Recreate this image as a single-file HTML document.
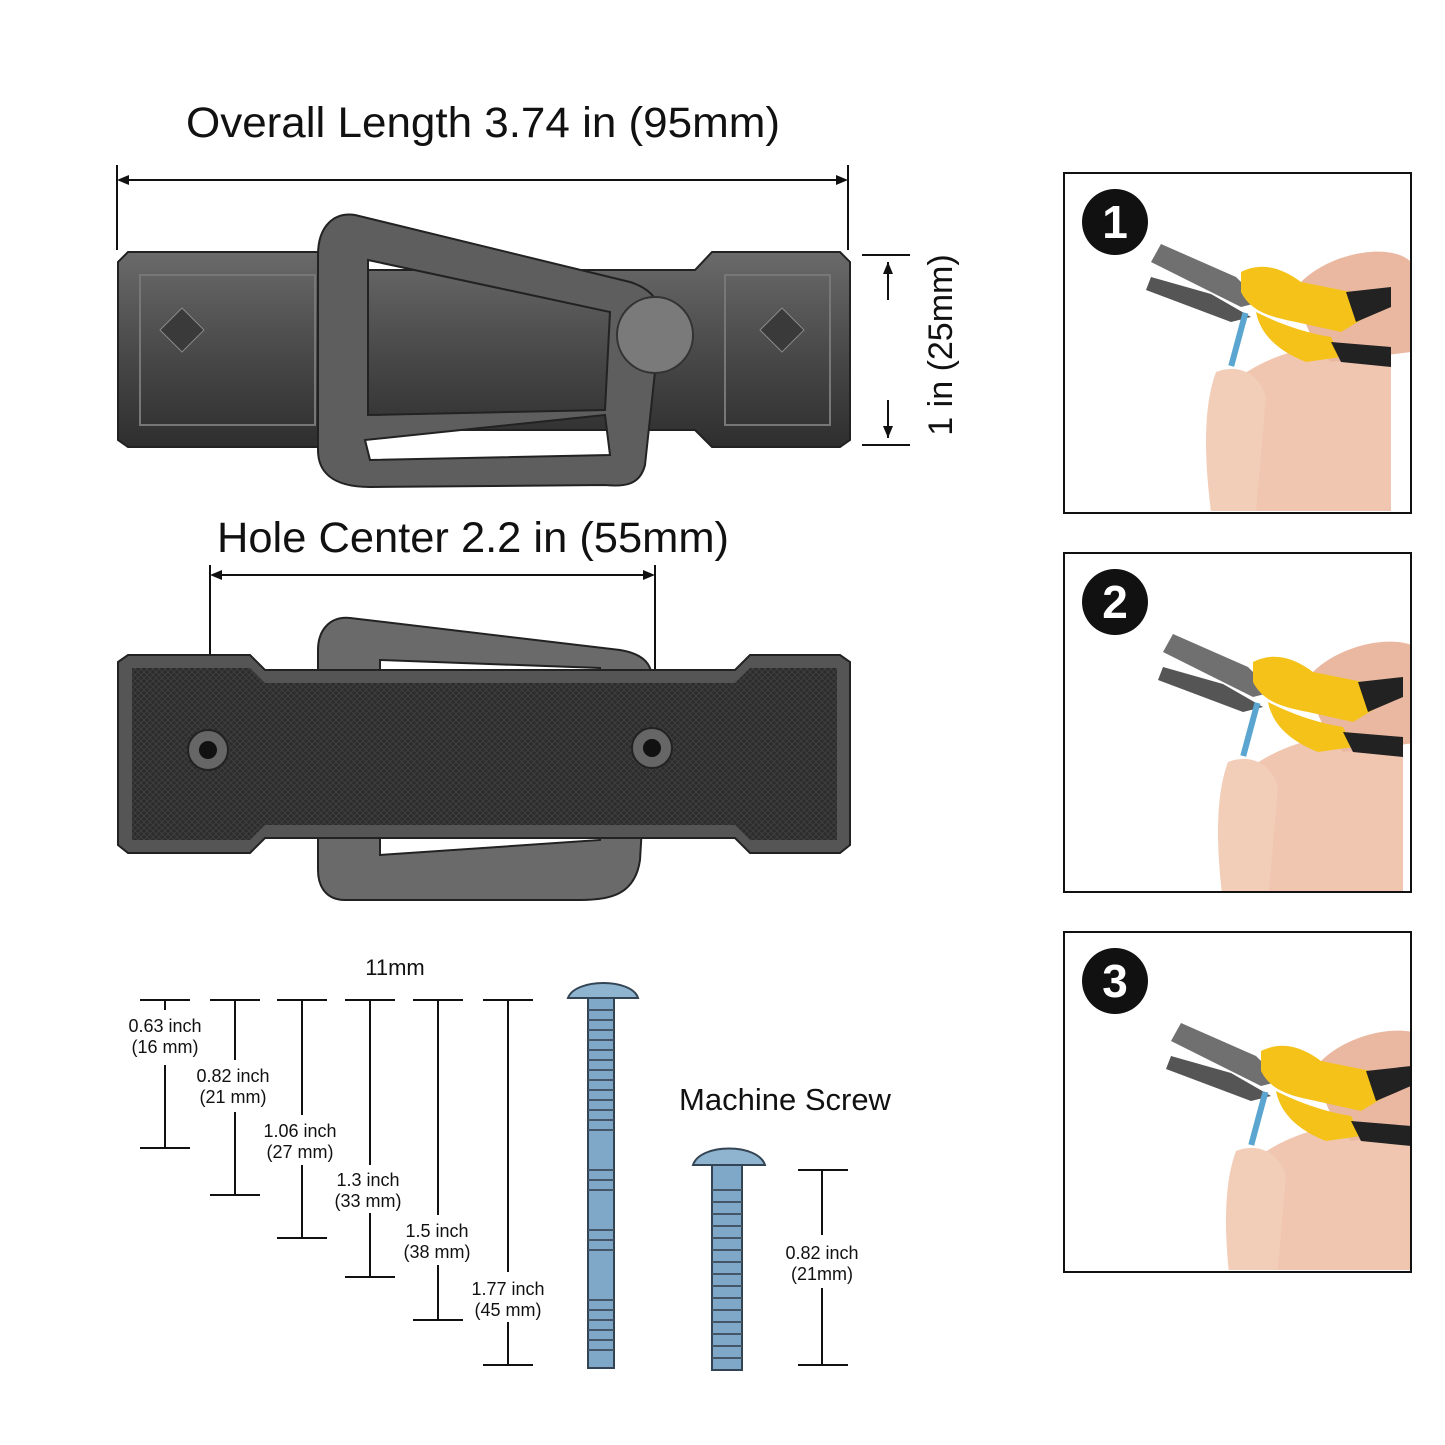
<!DOCTYPE html>
<html><head><meta charset="utf-8"><style>
html,body{margin:0;padding:0;background:#fff}
svg{display:block}
text{font-family:"Liberation Sans",sans-serif;fill:#111}
</style></head><body>
<svg width="1445" height="1445" viewBox="0 0 1445 1445" xmlns="http://www.w3.org/2000/svg">
<defs>
<linearGradient id="metal" x1="0" y1="0" x2="0" y2="1">
<stop offset="0" stop-color="#6a6a6a"/><stop offset="0.5" stop-color="#4a4a4a"/><stop offset="1" stop-color="#2e2e2e"/>
</linearGradient>
<pattern id="mesh" width="6" height="6" patternUnits="userSpaceOnUse">
<rect width="6" height="6" fill="#2c2c2c"/><path d="M0 0L6 6M6 0L0 6" stroke="#3e3e3e" stroke-width="1"/>
</pattern>
<clipPath id="pc"><rect x="2" y="2" width="345" height="337"/></clipPath>
<g id="hand">
<path d="M120 235 C140 200 200 170 250 175 L300 170 L300 340 L150 340 C140 310 125 270 120 235Z" fill="#f0c6b0"/>
<path d="M210 110 C240 80 300 70 320 90 L320 180 L240 190 C220 170 205 140 210 110Z" fill="#eab8a0"/>
<path d="M60 90 L150 135 L170 130 L145 105 L70 72Z" fill="#707070"/>
<path d="M55 118 L140 150 L160 145 L120 122 L60 105Z" fill="#555"/>
<path d="M150 100 C170 90 190 95 210 110 L260 120 L275 145 L250 160 L205 150 C180 145 160 140 150 120Z" fill="#f5c21a"/>
<path d="M165 140 C185 150 210 160 240 165 L250 185 L215 190 C190 180 170 165 165 140Z" fill="#f5c21a"/>
<path d="M255 120 L300 115 L300 135 L265 150Z" fill="#222"/>
<path d="M240 170 L300 175 L300 195 L250 190Z" fill="#222"/>
<rect x="145" y="140" width="6" height="55" fill="#5aa6d0" transform="rotate(15 148 165)"/>
<path d="M125 200 C150 190 170 205 175 225 L165 340 L120 340 C115 300 110 240 125 200Z" fill="#f2cdb8"/>
</g>
</defs>

<text x="483" y="137" font-size="43" text-anchor="middle" textLength="594" lengthAdjust="spacingAndGlyphs">Overall Length 3.74 in (95mm)</text>
<g stroke="#111" stroke-width="2" fill="none">
<line x1="117" y1="165" x2="117" y2="250"/><line x1="848" y1="165" x2="848" y2="250"/>
<line x1="120" y1="180" x2="845" y2="180"/>
<line x1="862" y1="255" x2="910" y2="255"/><line x1="862" y1="445" x2="910" y2="445"/>
<line x1="888" y1="262" x2="888" y2="300"/><line x1="888" y1="400" x2="888" y2="438"/>
<line x1="210" y1="565" x2="210" y2="750"/><line x1="655" y1="565" x2="655" y2="750"/>
<line x1="213" y1="575" x2="652" y2="575"/>
</g>
<g fill="#111">
<path d="M117 180 l12 -5 v10z"/><path d="M848 180 l-12 -5 v10z"/>
<path d="M888 262 l-5 12 h10z"/><path d="M888 438 l-5 -12 h10z"/>
<path d="M210 575 l12 -5 v10z"/><path d="M655 575 l-12 -5 v10z"/>
</g>
<text x="940" y="345" font-size="34" text-anchor="middle" transform="rotate(-90 940 345)" dy="12">1 in (25mm)</text>

<!-- top handle -->
<path d="M118 262 L128 252 L325 252 L340 270 L695 270 L712 252 L840 252 L850 262 L850 440 L840 447 L712 447 L695 430 L340 430 L325 447 L128 447 L118 440Z" fill="url(#metal)" stroke="#222" stroke-width="2"/>
<rect x="140" y="275" width="175" height="150" fill="none" stroke="#777" stroke-width="2"/>
<rect x="725" y="275" width="105" height="150" fill="none" stroke="#777" stroke-width="2"/>
<path d="M160 330 l22 -22 l22 22 l-22 22z" fill="#3a3a3a" stroke="#888"/>
<path d="M760 330 l22 -22 l22 22 l-22 22z" fill="#3a3a3a" stroke="#888"/>
<path fill-rule="evenodd" d="M355 215 L630 282 C655 290 662 305 660 325 L645 465 C640 485 625 487 605 485 L370 487 C330 487 318 470 318 450 L318 255 C318 225 335 212 355 215Z M368 260 L610 312 L605 410 L368 415Z M365 440 L605 415 L610 455 L370 460Z" fill="#5e5e5e" stroke="#222" stroke-width="2"/>
<circle cx="655" cy="335" r="38" fill="#7a7a7a" stroke="#333" stroke-width="2"/>

<text x="473" y="552" font-size="43" text-anchor="middle" textLength="512" lengthAdjust="spacingAndGlyphs">Hole Center 2.2 in (55mm)</text>

<!-- back handle -->
<path fill-rule="evenodd" d="M350 618 L620 650 C650 655 655 670 650 690 L640 860 C635 895 610 900 580 900 L345 900 C325 900 318 885 318 870 L318 650 C318 630 330 616 350 618Z M380 660 L600 668 L600 840 L380 855Z" fill="#6a6a6a" stroke="#222" stroke-width="2"/>
<path d="M118 662 L128 655 L250 655 L265 670 L735 670 L750 655 L840 655 L850 662 L850 845 L840 853 L750 853 L735 838 L265 838 L250 853 L128 853 L118 845Z" fill="#555" stroke="#222" stroke-width="2"/>
<path d="M132 668 L250 668 L265 683 L735 683 L750 668 L837 668 L837 840 L750 840 L735 825 L265 825 L250 840 L132 840Z" fill="url(#mesh)"/>
<circle cx="208" cy="750" r="20" fill="#666" stroke="#222" stroke-width="2"/><circle cx="208" cy="750" r="9" fill="#111"/>
<circle cx="652" cy="748" r="20" fill="#666" stroke="#222" stroke-width="2"/><circle cx="652" cy="748" r="9" fill="#111"/>

<!-- screw dims -->
<text x="395" y="975" font-size="22" text-anchor="middle">11mm</text>
<g stroke="#111" stroke-width="2">
<line x1="140" y1="1000" x2="190" y2="1000"/><line x1="210" y1="1000" x2="260" y2="1000"/><line x1="277" y1="1000" x2="327" y2="1000"/><line x1="345" y1="1000" x2="395" y2="1000"/><line x1="413" y1="1000" x2="463" y2="1000"/><line x1="483" y1="1000" x2="533" y2="1000"/>
<line x1="140" y1="1148" x2="190" y2="1148"/><line x1="210" y1="1195" x2="260" y2="1195"/><line x1="277" y1="1238" x2="327" y2="1238"/><line x1="345" y1="1277" x2="395" y2="1277"/><line x1="413" y1="1320" x2="463" y2="1320"/><line x1="483" y1="1365" x2="533" y2="1365"/>
<line x1="165" y1="1000" x2="165" y2="1010"/><line x1="165" y1="1065" x2="165" y2="1148"/>
<line x1="235" y1="1000" x2="235" y2="1060"/><line x1="235" y1="1112" x2="235" y2="1195"/>
<line x1="302" y1="1000" x2="302" y2="1115"/><line x1="302" y1="1165" x2="302" y2="1238"/>
<line x1="370" y1="1000" x2="370" y2="1165"/><line x1="370" y1="1213" x2="370" y2="1277"/>
<line x1="438" y1="1000" x2="438" y2="1215"/><line x1="438" y1="1265" x2="438" y2="1320"/>
<line x1="508" y1="1000" x2="508" y2="1272"/><line x1="508" y1="1322" x2="508" y2="1365"/>
<line x1="798" y1="1170" x2="848" y2="1170"/><line x1="798" y1="1365" x2="848" y2="1365"/>
<line x1="822" y1="1170" x2="822" y2="1235"/><line x1="822" y1="1288" x2="822" y2="1365"/>
</g>
<g font-size="18" text-anchor="middle">
<text x="165" y="1032">0.63 inch</text><text x="165" y="1053">(16 mm)</text>
<text x="233" y="1082">0.82 inch</text><text x="233" y="1103">(21 mm)</text>
<text x="300" y="1137">1.06 inch</text><text x="300" y="1158">(27 mm)</text>
<text x="368" y="1186">1.3 inch</text><text x="368" y="1207">(33 mm)</text>
<text x="437" y="1237">1.5 inch</text><text x="437" y="1258">(38 mm)</text>
<text x="508" y="1295">1.77 inch</text><text x="508" y="1316">(45 mm)</text>
<text x="822" y="1259">0.82 inch</text><text x="822" y="1280">(21mm)</text>
</g>
<text x="785" y="1110" font-size="31" text-anchor="middle">Machine Screw</text>

<!-- screws -->
<path d="M568 998 C575 978 632 978 638 998Z" fill="#8fb4d0" stroke="#345" stroke-width="2"/>
<rect x="588" y="998" width="26" height="370" fill="#7fa8c8" stroke="#345" stroke-width="2"/>
<g stroke="#456" stroke-width="2"><path d="M588 1010 h26 M588 1020 h26 M588 1030 h26 M588 1040 h26 M588 1050 h26 M588 1060 h26 M588 1070 h26 M588 1080 h26 M588 1090 h26 M588 1100 h26 M588 1110 h26 M588 1120 h26 M588 1130 h26 M588 1170 h26 M588 1180 h26 M588 1190 h26 M588 1230 h26 M588 1240 h26 M588 1250 h26 M588 1300 h26 M588 1310 h26 M588 1320 h26 M588 1330 h26 M588 1340 h26 M588 1350 h26"/></g>
<path d="M693 1165 C700 1143 758 1143 765 1165Z" fill="#8fb4d0" stroke="#345" stroke-width="2"/>
<rect x="712" y="1165" width="30" height="205" fill="#7fa8c8" stroke="#345" stroke-width="2"/>
<g stroke="#456" stroke-width="2"><path d="M712 1190 h30 M712 1202 h30 M712 1214 h30 M712 1226 h30 M712 1238 h30 M712 1250 h30 M712 1262 h30 M712 1274 h30 M712 1286 h30 M712 1298 h30 M712 1310 h30 M712 1322 h30 M712 1334 h30 M712 1346 h30 M712 1358 h30"/></g>

<!-- panels -->
<g transform="translate(1063 172)">
<rect x="1" y="1" width="347" height="340" fill="#fff"/>
<g clip-path="url(#pc)"><use href="#hand" transform="translate(28 0)"/></g>
<rect x="1" y="1" width="347" height="340" fill="none" stroke="#111" stroke-width="2"/>
<circle cx="52" cy="50" r="33" fill="#111"/><text x="52" y="66" font-size="46" font-weight="bold" text-anchor="middle" style="fill:#fff">1</text>
</g>
<g transform="translate(1063 552)">
<rect x="1" y="1" width="347" height="339" fill="#fff"/>
<g clip-path="url(#pc)"><use href="#hand" transform="translate(40 10)"/></g>
<rect x="1" y="1" width="347" height="339" fill="none" stroke="#111" stroke-width="2"/>
<circle cx="52" cy="50" r="33" fill="#111"/><text x="52" y="66" font-size="46" font-weight="bold" text-anchor="middle" style="fill:#fff">2</text>
</g>
<g transform="translate(1063 931)">
<rect x="1" y="1" width="347" height="340" fill="#fff"/>
<g clip-path="url(#pc)"><use href="#hand" transform="translate(48 20)"/></g>
<rect x="1" y="1" width="347" height="340" fill="none" stroke="#111" stroke-width="2"/>
<circle cx="52" cy="50" r="33" fill="#111"/><text x="52" y="66" font-size="46" font-weight="bold" text-anchor="middle" style="fill:#fff">3</text>
</g>
</svg>
</body></html>
